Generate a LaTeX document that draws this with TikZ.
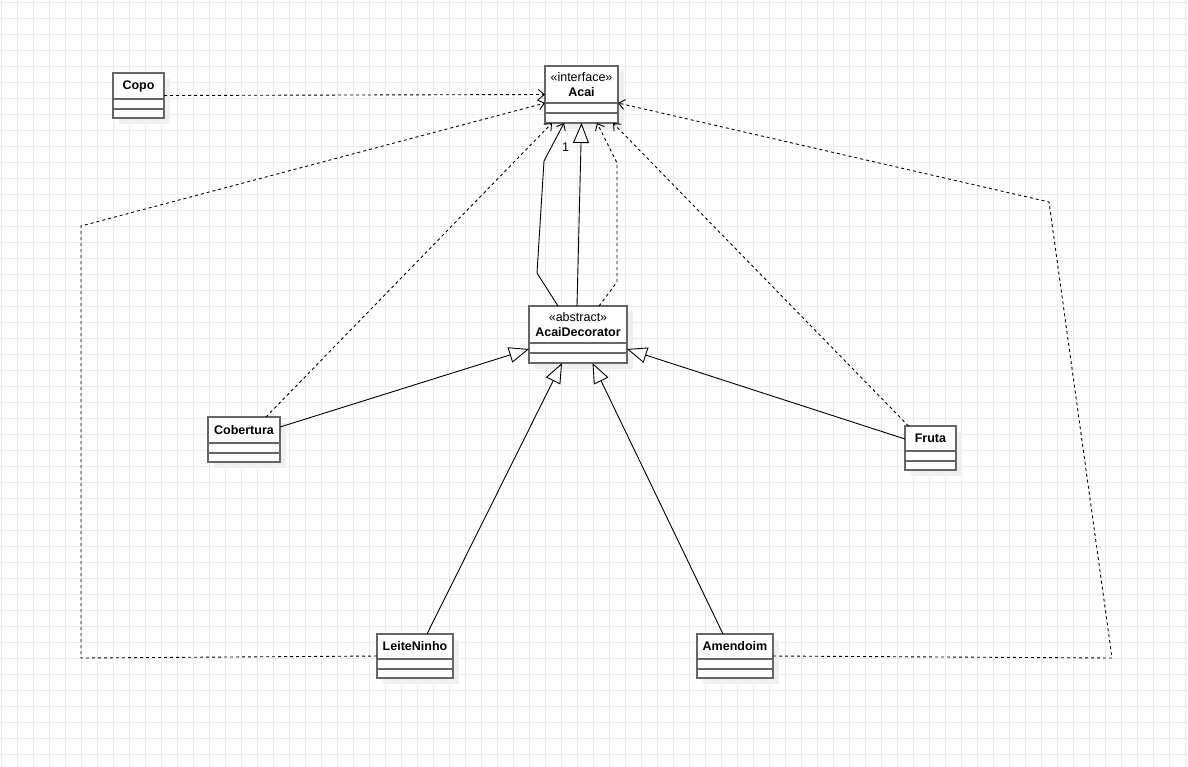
\documentclass[tikz,border=0pt]{standalone}
\usepackage{fontspec}
\setmainfont{Liberation Sans}
\usetikzlibrary{arrows.meta}
\definecolor{gridc}{RGB}{236,236,236}
\definecolor{boxc}{RGB}{102,102,102}
\definecolor{shadc}{RGB}{240,240,240}
\tikzset{
  gridline/.style={draw=gridc, line width=0.8pt},
  clsshadow/.style={fill=shadc},
  clsbox/.style={draw=boxc, fill=white, line width=1.5pt, inner sep=0pt, outer sep=0pt},
  clsline/.style={draw=boxc, line width=1.5pt},
  clstext/.style={font=\fontsize{12.5}{15}\selectfont, align=center, inner sep=0pt},
  deparrow/.style={draw=black, line width=0.9pt, dash pattern=on 3pt off 3pt, -{Straight Barb[length=6pt,width=10pt]}},
  assocarrow/.style={draw=black, line width=0.9pt, -{Straight Barb[length=6pt,width=10pt]}},
  genarrow/.style={draw=black, line width=0.9pt, -{Triangle[open,length=20pt,width=16pt,fill=white]}},
}
\newcommand\umlcls[8]{%
  \fill[clsshadow] ({#2+6},{#3+6}) rectangle ({#4+6},{#5+6});
  \node[clsbox, minimum width={(#4-#2)*1pt}, minimum height={(#5-#3)*1pt}] (#1) at ({(#2+#4)/2},{(#3+#5)/2}) {};
  \draw[clsline] ({#2},{#6}) -- ({#4},{#6});
  \draw[clsline] ({#2},{#7}) -- ({#4},{#7});
  \node[clstext] (#1-name) at ({(#2+#4)/2},{(#3+#6)/2}) {#8};
}
\begin{document}
\begin{tikzpicture}[x=1pt,y=-1pt]
\useasboundingbox (0,0) rectangle (1188,766);
\fill[white] (0,0) rectangle (1188,766);
\foreach \gx in {1,17,...,1188} \draw[gridline] (\gx,0) -- (\gx,766);
\foreach \gy in {2,18,...,766} \draw[gridline] (0,\gy) -- (1188,\gy);

% classes
\umlcls{acai}{545}{66}{618}{123}{103}{113}{«interface»\\\textbf{Acai}}
\umlcls{dec}{529}{306}{627}{363}{343}{353}{«abstract»\\\textbf{AcaiDecorator}}
\umlcls{copo}{113}{73}{164}{118}{99}{109}{\textbf{Copo}}
\umlcls{cob}{208}{417}{280}{462}{443}{453}{\textbf{Cobertura}}
\umlcls{fru}{905}{426}{956}{470}{451}{461}{\textbf{Fruta}}
\umlcls{lei}{377}{634}{453}{678}{659}{669}{\textbf{LeiteNinho}}
\umlcls{ame}{697}{634}{773}{678}{659}{669}{\textbf{Amendoim}}

% corner coordinates
\coordinate (cl1) at (81,658);
\coordinate (cl2) at (81,226);
\coordinate (cr1) at (1112,658);
\coordinate (cr2) at (1049,202);
\coordinate (as1) at (537,273);
\coordinate (as2) at (544,161);
\coordinate (dd1) at (617,282);
\coordinate (dd2) at (617,163);

% dependencies to Acai
\draw[deparrow] (copo.east) -- (acai.west);
\draw[deparrow] (lei.west) -- (cl1) -- (cl2) -- ([yshift=-8.5pt]acai.west);
\draw[deparrow] (ame.east) -- (cr1) -- (cr2) -- ([yshift=-8.5pt]acai.east);
\draw[deparrow] ([xshift=22pt]cob.north) -- ([xshift=-29.5pt]acai.south);
\draw[deparrow] ([xshift=-22pt]fru.north) -- ([xshift=31.5pt]acai.south);
\draw[deparrow] ([xshift=21pt]dec.north) -- (dd1) -- (dd2) -- ([xshift=15.5pt]acai.south);

% association and generalization decorator -> acai
\draw[assocarrow] ([xshift=-20pt]dec.north) -- (as1) -- (as2) -- ([xshift=-17.5pt]acai.south);
\node[clstext] (one) at (565.5,147.5) {1};
\draw[genarrow] ([xshift=-1pt]dec.north) -- (acai.south);

% generalizations to decorator
\draw[genarrow] ([yshift=12.5pt]cob.east) -- ([yshift=-14.5pt]dec.west);
\draw[genarrow] ([yshift=9pt]fru.west) -- ([yshift=-14.5pt]dec.east);
\draw[genarrow] ([xshift=12pt]lei.north) -- ([xshift=-16pt]dec.south);
\draw[genarrow] ([xshift=-12pt]ame.north) -- ([xshift=14.5pt]dec.south);
\end{tikzpicture}
\end{document}
